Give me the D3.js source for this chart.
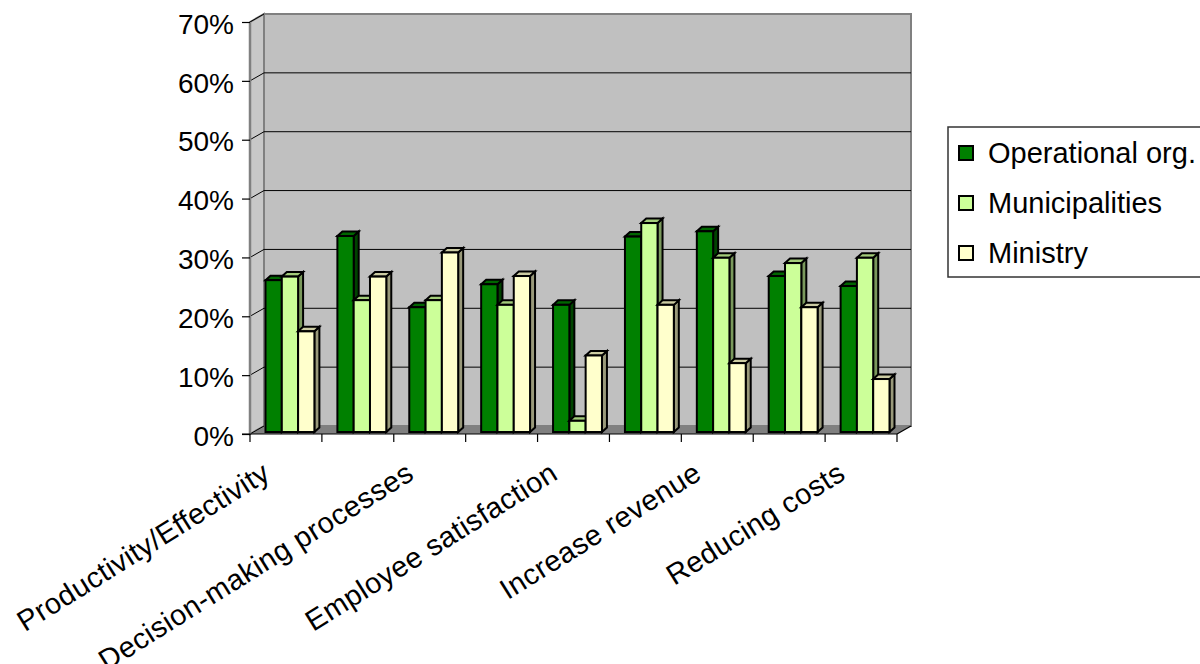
<!DOCTYPE html>
<html>
<head>
<meta charset="utf-8">
<script src="https://cdn.jsdelivr.net/npm/d3@7"></script>
<style>
  html, body { margin: 0; padding: 0; background: #fff; }
  svg { display: block; font-family: "Liberation Sans", Arial, sans-serif; }
</style>
</head>
<body>
<svg id="chart" width="1200" height="664"></svg>
<script>
// Category labels (only every other category carries a visible label)
const categoryLabels = [
  "Productivity/Effectivity", "", "Decision-making processes", "",
  "Employee satisfaction", "", "Increase revenue", "", "Reducing costs"
];
const seriesNames = ["Operational org.", "Municipalities", "Ministry"];
const operational    = [0.258, 0.333, 0.212, 0.251, 0.216, 0.332, 0.341, 0.265, 0.248];
const municipalities = [0.264, 0.224, 0.224, 0.216, 0.019, 0.355, 0.296, 0.287, 0.296];
const ministry       = [0.171, 0.264, 0.305, 0.265, 0.130, 0.216, 0.117, 0.212, 0.090];
const yTicks = [0, 0.1, 0.2, 0.3, 0.4, 0.5, 0.6, 0.7];

(function draw() {
  const seriesValues = [operational, municipalities, ministry];
  const frontColors = ["#008000", "#CCFF99", "#FFFFCC"];
  const topColors   = ["#006600", "#A3CC7A", "#CCCCA3"];
  const sideColors  = ["#004400", "#7A995C", "#99997A"];

  const svg = d3.select("#chart");

  // plot frame (front plane) and oblique depth of the walls
  const pLeft = 250, pRight = 897, pBottom = 434, pTop = 22;
  const wallDX = 14, wallDY = -8;
  // bars sit slightly behind the front plane; their own depth offset
  const barShiftX = 4, barShiftY = -2;
  const barDX = 5, barDY = -4.5;

  const idx = d3.range(categoryLabels.length);
  const x = d3.scaleBand().domain(idx).range([pLeft, pRight]).padding(0);
  const bw = x.bandwidth();
  const xs = d3.scaleBand().domain(d3.range(seriesNames.length))
    .range([bw * 0.16, bw * 0.84]).padding(0);
  const y = d3.scaleLinear().domain([0, 0.7]).range([pBottom, pTop]);

  // back wall
  svg.append("rect")
    .attr("x", pLeft + wallDX).attr("y", pTop + wallDY)
    .attr("width", pRight - pLeft).attr("height", pBottom - pTop)
    .attr("fill", "#C0C0C0").attr("stroke", "#808080").attr("stroke-width", 2);

  // side wall
  svg.append("polygon")
    .attr("points", [[pLeft, pTop], [pLeft + wallDX, pTop + wallDY],
                     [pLeft + wallDX, pBottom + wallDY], [pLeft, pBottom]].join(" "))
    .attr("fill", "#C8C8C8").attr("stroke", "#808080").attr("stroke-width", 2);

  // floor
  svg.append("polygon")
    .attr("points", [[pLeft, pBottom], [pRight, pBottom],
                     [pRight + wallDX, pBottom + wallDY], [pLeft + wallDX, pBottom + wallDY]].join(" "))
    .attr("fill", "#808080");

  // gridlines on the back wall and across the side wall
  const grid = svg.append("g");
  yTicks.slice(1, -1).forEach(v => {
    grid.append("line")
      .attr("x1", pLeft + wallDX).attr("x2", pRight + wallDX)
      .attr("y1", y(v) + wallDY).attr("y2", y(v) + wallDY)
      .attr("stroke", "#000").attr("stroke-width", 1);
  });
  yTicks.forEach(v => {
    grid.append("line")
      .attr("x1", pLeft).attr("x2", pLeft + wallDX)
      .attr("y1", y(v)).attr("y2", y(v) + wallDY)
      .attr("stroke", "#000").attr("stroke-width", 1);
  });

  // front edge of the value axis
  svg.append("line")
    .attr("x1", pLeft).attr("x2", pLeft).attr("y1", pTop).attr("y2", pBottom)
    .attr("stroke", "#808080").attr("stroke-width", 2.5);

  // value axis ticks and labels
  const yAxis = d3.axisLeft(y).tickValues(yTicks)
    .tickFormat(d3.format(".0%")).tickSize(8).tickPadding(8);
  const yg = svg.append("g").attr("transform", `translate(${pLeft},0)`).call(yAxis);
  yg.select(".domain").remove();
  yg.selectAll(".tick line").attr("stroke", "#000").attr("stroke-width", 1.2);
  yg.selectAll(".tick text")
    .attr("fill", "#000").attr("font-size", 28)
    .attr("font-family", "'Liberation Sans', Arial, sans-serif")
    .attr("dy", "0.4em");

  // category axis line, its oblique end and tick marks
  svg.append("line")
    .attr("x1", pLeft - 8).attr("x2", pRight).attr("y1", pBottom).attr("y2", pBottom)
    .attr("stroke", "#000").attr("stroke-width", 1.2);
  svg.append("line")
    .attr("x1", pRight).attr("x2", pRight + wallDX)
    .attr("y1", pBottom).attr("y2", pBottom + wallDY)
    .attr("stroke", "#000").attr("stroke-width", 1.2);
  idx.concat([idx.length]).forEach(i => {
    const tx = i < idx.length ? x(i) : pRight;
    svg.append("line")
      .attr("x1", tx).attr("x2", tx).attr("y1", pBottom).attr("y2", pBottom + 8)
      .attr("stroke", "#000").attr("stroke-width", 1.2);
  });

  // 3D bars: side face, top face, then front face, series in order
  const bars = svg.append("g").attr("stroke", "#000").attr("stroke-width", 2)
    .attr("stroke-linejoin", "miter");
  idx.forEach(i => {
    seriesValues.forEach((vals, s) => {
      const x0 = x(i) + xs(s) + barShiftX;
      const x1 = x0 + xs.bandwidth();
      const y0 = y(0) + barShiftY;
      const y1 = y(vals[i]) + barShiftY;
      bars.append("polygon")
        .attr("points", [[x1, y1], [x1 + barDX, y1 + barDY],
                         [x1 + barDX, y0 + barDY], [x1, y0]].join(" "))
        .attr("fill", sideColors[s]);
      bars.append("polygon")
        .attr("points", [[x0, y1], [x0 + barDX, y1 + barDY],
                         [x1 + barDX, y1 + barDY], [x1, y1]].join(" "))
        .attr("fill", topColors[s]);
      bars.append("rect")
        .attr("x", x0).attr("y", y1)
        .attr("width", x1 - x0).attr("height", y0 - y1)
        .attr("fill", frontColors[s]);
    });
  });

  // rotated category labels
  svg.append("g").selectAll("text")
    .data(idx.filter(i => categoryLabels[i] !== ""))
    .join("text")
    .attr("transform", i => `translate(${x(i) + bw / 2 - 14},478) rotate(-32)`)
    .attr("text-anchor", "end")
    .attr("font-size", 29)
    .attr("letter-spacing", 0.4)
    .attr("fill", "#000")
    .text(i => categoryLabels[i]);

  // legend
  const legend = svg.append("g");
  legend.append("rect")
    .attr("x", 948).attr("y", 127).attr("width", 260).attr("height", 150)
    .attr("fill", "#fff").attr("stroke", "#333").attr("stroke-width", 1.5);
  seriesNames.forEach((name, s) => {
    const cy = 153 + s * 50;
    legend.append("rect")
      .attr("x", 959).attr("y", cy - 7).attr("width", 14).attr("height", 14)
      .attr("fill", frontColors[s]).attr("stroke", "#000").attr("stroke-width", 2);
    legend.append("text")
      .attr("x", 988).attr("y", cy).attr("dy", "0.36em")
      .attr("font-size", 29).attr("fill", "#000")
      .text(name);
  });
})();
</script>
</body>
</html>
